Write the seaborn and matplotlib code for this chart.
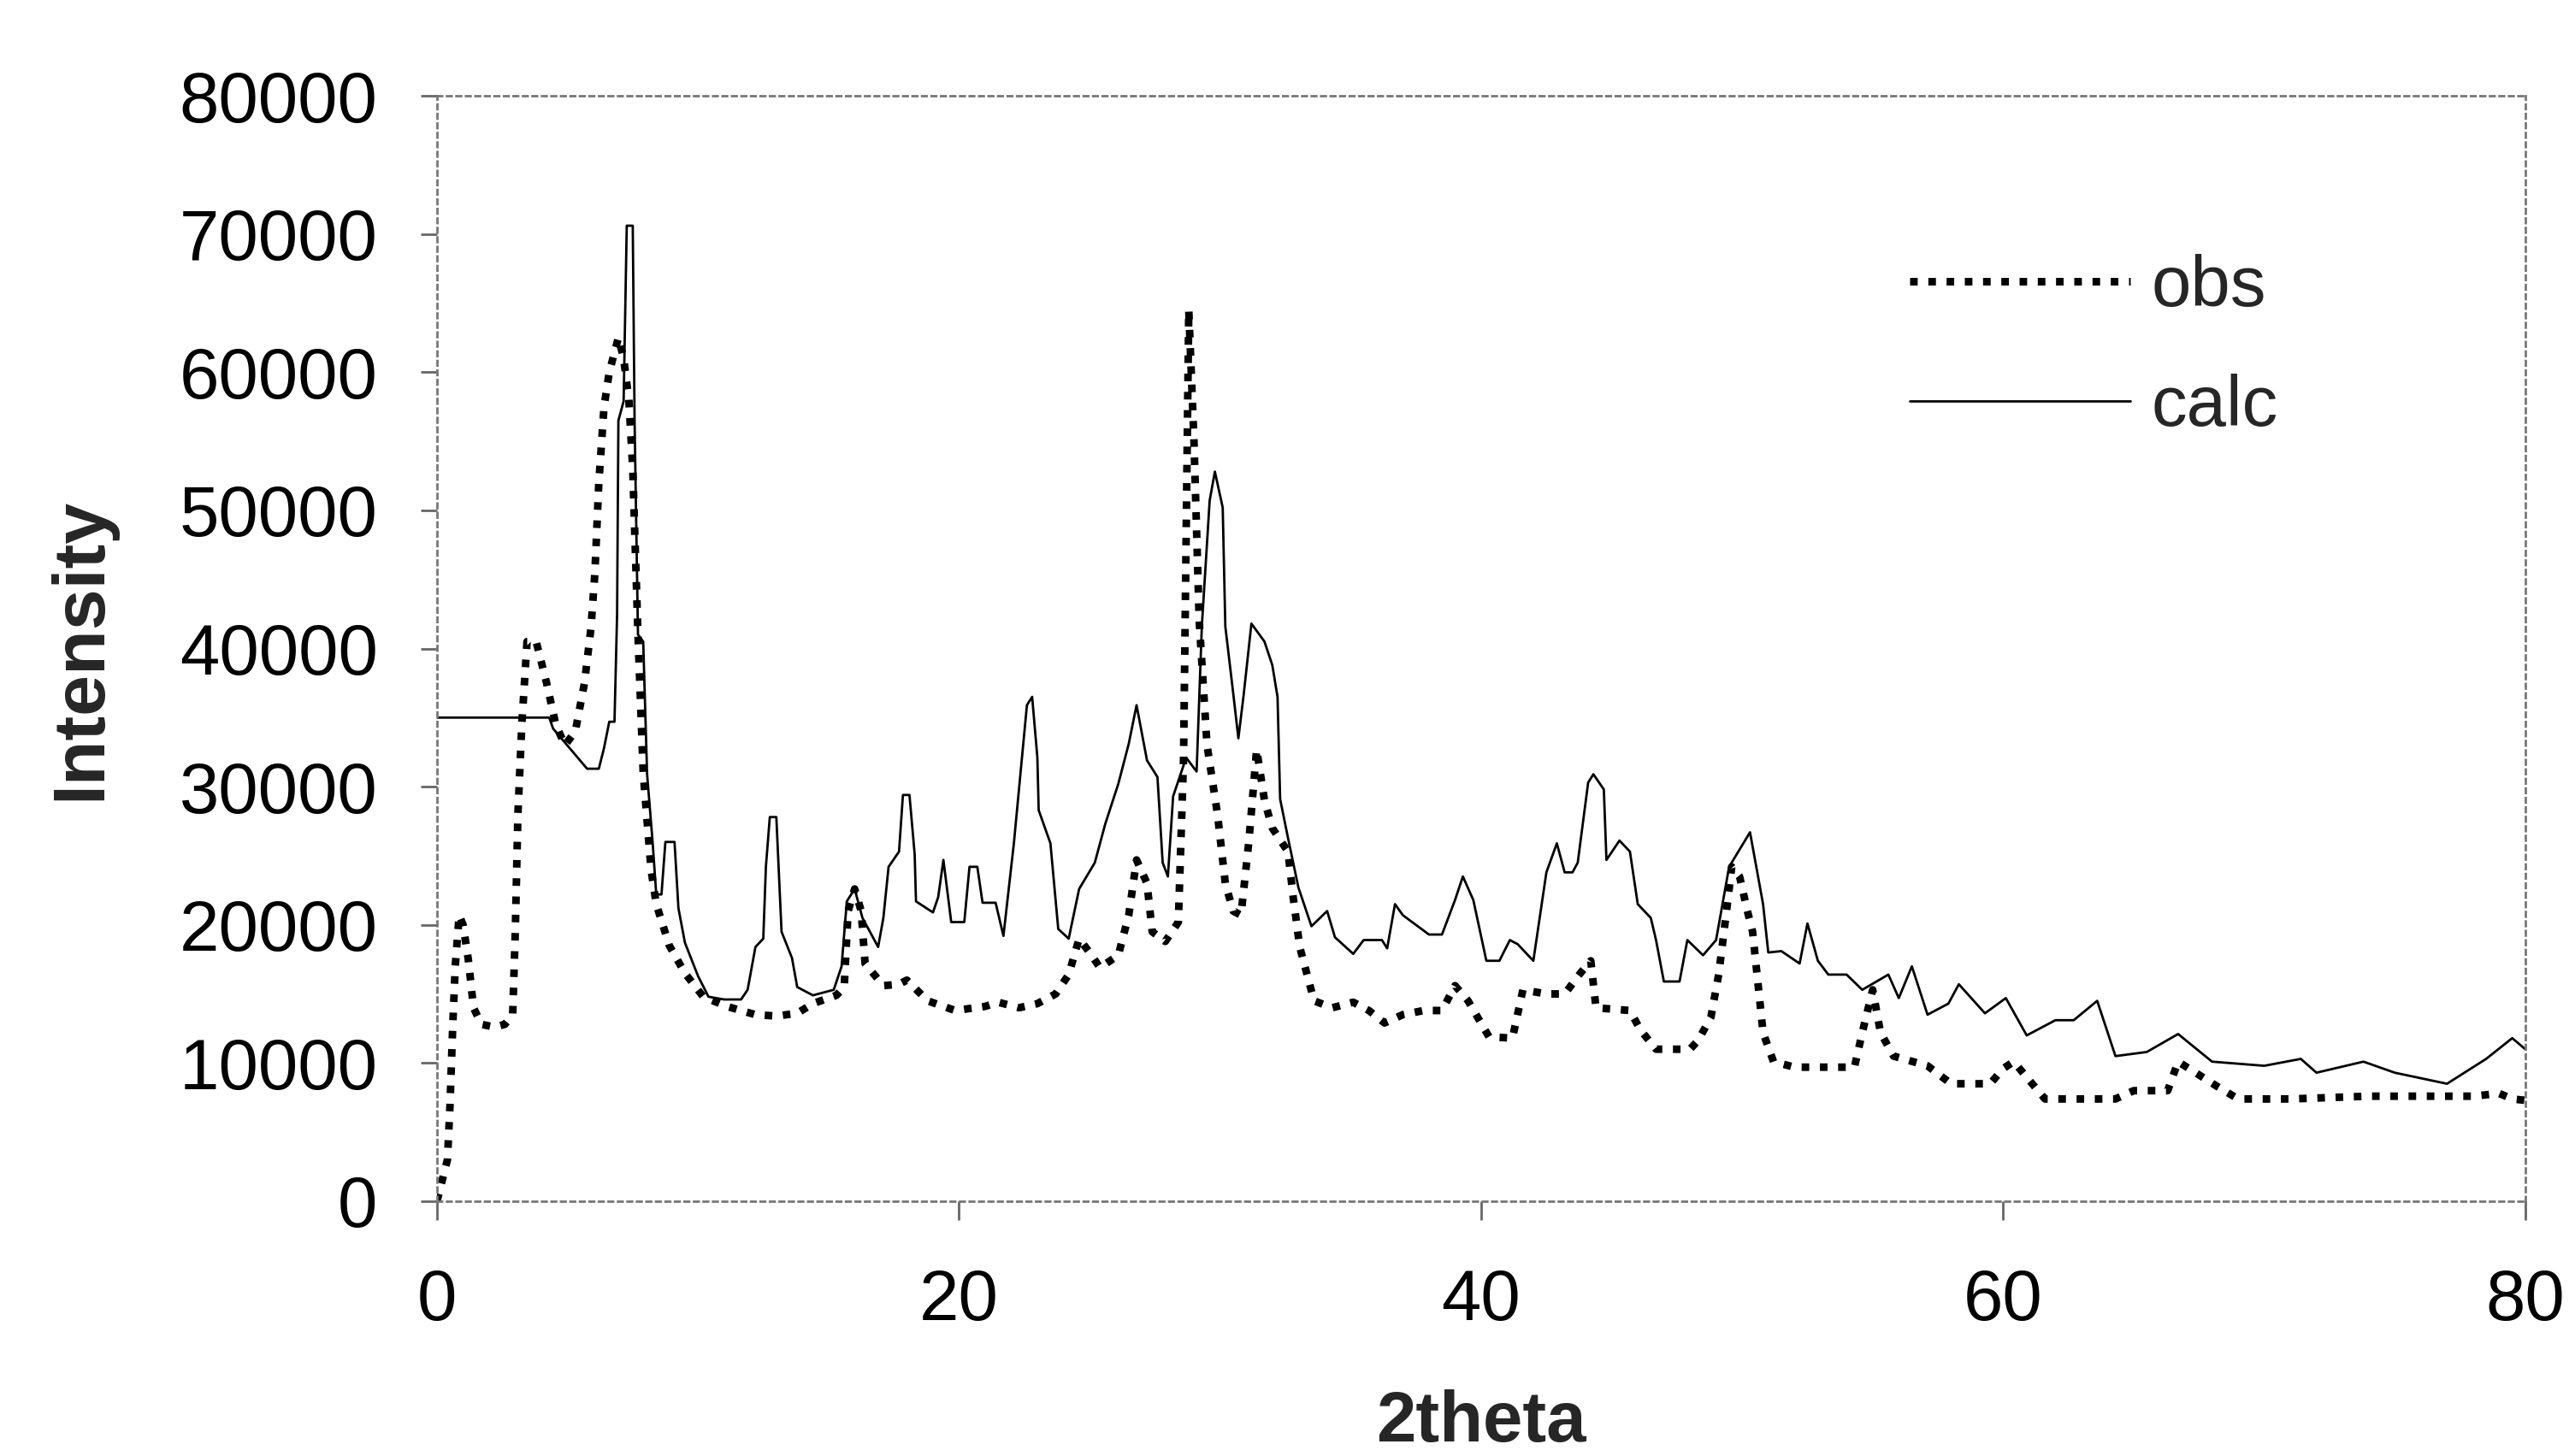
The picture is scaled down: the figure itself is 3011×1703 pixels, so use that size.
import numpy as np
import matplotlib
matplotlib.use("Agg")
import matplotlib.pyplot as plt
import seaborn as sns

# observed pattern (2theta, intensity)
obs_x = [0.0, 0.2, 0.4, 0.5, 0.6, 0.7, 0.85, 1.0, 1.2, 1.4, 1.7, 2.2, 2.6, 2.9, 3.0, 3.1,
         3.25, 3.45, 3.8, 4.2, 4.55, 4.9, 5.3, 5.65, 5.9, 6.05, 6.2, 6.4, 6.6, 6.95, 7.15,
         7.35, 7.5, 7.7, 7.9, 8.2, 8.4, 8.9, 9.5, 10.2, 11.1, 12.2, 13.0, 13.8, 14.4, 15.3,
         15.6, 15.75, 16.0, 16.25, 16.4, 17.1, 17.7, 18.0, 18.8, 19.85, 21.0, 21.5, 22.3,
         23.0, 23.7, 24.2, 24.6, 25.0, 25.4, 26.1, 26.5, 26.8, 27.2, 27.4, 27.9, 28.4, 28.6,
         28.8, 29.0, 29.2, 29.5, 29.9, 30.2, 30.5, 30.8, 31.1, 31.4, 31.7, 32.0, 32.6, 32.8,
         33.05, 33.6, 34.3, 35.1, 35.7, 36.3, 37.0, 37.8, 38.5, 39.0, 39.5, 39.9, 40.3, 41.2,
         41.6, 42.5, 43.2, 43.8, 44.2, 44.4, 45.7, 46.1, 46.7, 48.0, 48.3, 48.8, 49.1, 49.4,
         49.6, 49.9, 50.2, 50.4, 50.8, 51.2, 52.0, 54.3, 54.6, 55.0, 55.3, 55.8, 57.1, 58.0,
         59.5, 60.0, 60.4, 61.2, 61.6, 64.3, 65.0, 66.3, 66.7, 68.2, 69.0, 71.0, 74.0, 78.0,
         79.0, 79.5, 80.0]
obs_y = [0, 1500, 3000, 7000, 12500, 17000, 20700, 20000, 17500, 14000, 12800, 12600, 12800,
         13500, 19500, 28000, 34500, 40500, 40500, 37500, 34500, 33000, 34000, 37500, 41500,
         45500, 52000, 57500, 60000, 62500, 61000, 58000, 53000, 41000, 31000, 24000, 21500,
         18500, 16500, 14800, 14100, 13500, 13400, 13600, 14300, 14900, 15500, 21000, 22600,
         21000, 17200, 15600, 15700, 16000, 14500, 13800, 14100, 14400, 14000, 14300, 15000,
         16400, 19000, 18000, 16900, 17800, 20700, 24700, 23000, 19500, 18800, 20200, 32000,
         64500, 55000, 42000, 33000, 28000, 23000, 21000, 20700, 26000, 32700, 29000, 27000,
         25300, 22000, 18400, 14500, 14000, 14400, 13800, 12900, 13500, 13800, 13800, 15600,
         14500, 13200, 11900, 11800, 15300, 15000, 15000, 16500, 17400, 14000, 13800, 12400,
         11000, 11000, 11600, 13300, 16400, 21000, 24200, 23500, 21000, 19500, 12200, 10100,
         9700, 9700, 12200, 15300, 12200, 10500, 9800, 8500, 8500, 9600, 10100, 8300, 7400,
         7400, 8000, 8000, 10100, 8300, 7400, 7400, 7600, 7600, 7800, 7400, 7300]

# calculated pattern
calc_x = [0.0, 3.0, 4.3, 4.45, 5.3, 5.75, 6.2, 6.4, 6.6, 6.8, 6.9, 6.95, 7.15, 7.27, 7.5,
          7.57, 7.7, 7.9, 8.05, 8.26, 8.4, 8.6, 8.75, 9.1, 9.25, 9.5, 10.0, 10.4, 11.0, 11.65,
          11.9, 12.2, 12.5, 12.6, 12.75, 13.0, 13.1, 13.2, 13.6, 13.8, 14.4, 15.2, 15.5, 15.7,
          16.0, 16.3, 16.9, 17.1, 17.3, 17.7, 17.85, 18.1, 18.3, 18.35, 19.0, 19.2, 19.4, 19.7,
          20.2, 20.4, 20.7, 20.9, 21.4, 21.7, 22.1, 22.6, 22.8, 23.0, 23.05, 23.5, 23.8, 24.2,
          24.6, 25.2, 25.6, 26.1, 26.5, 26.8, 27.2, 27.6, 27.8, 28.0, 28.2, 28.7, 29.1, 29.3,
          29.6, 29.8, 30.1, 30.2, 30.5, 30.7, 30.9, 31.2, 31.7, 32.0, 32.2, 32.3, 32.6, 33.0,
          33.5, 34.1, 34.4, 35.1, 35.5, 36.2, 36.4, 36.7, 37.0, 38.0, 38.5, 39.0, 39.3, 39.7,
          40.2, 40.7, 41.1, 41.4, 42.0, 42.5, 42.9, 43.2, 43.5, 43.7, 44.1, 44.3, 44.7, 44.8,
          45.3, 45.7, 46.0, 46.5, 46.7, 47.0, 47.6, 47.9, 48.5, 49.0, 49.5, 50.3, 50.8, 51.0,
          51.5, 52.2, 52.5, 52.9, 53.3, 54.0, 54.6, 55.6, 56.0, 56.5, 57.1, 57.9, 58.3, 59.3,
          60.1, 60.9, 62.0, 62.7, 63.6, 64.3, 65.5, 66.7, 68.0, 70.0, 71.4, 72.0, 73.8, 75.0,
          77.0, 78.5, 79.5, 80.0]
calc_y = [35000, 35000, 35000, 34200, 32300, 31300, 31300, 32800, 34700, 34700, 42500, 56500,
          57900, 70600, 70600, 56500, 41000, 40500, 30900, 26000, 22200, 22200, 26000, 26000,
          21200, 18700, 16300, 14800, 14600, 14600, 15300, 18400, 19000, 24200, 27800, 27800,
          23600, 19500, 17600, 15500, 14900, 15300, 17000, 21700, 22600, 20500, 18400, 20500,
          24200, 25300, 29400, 29400, 25100, 21700, 20900, 22000, 24700, 20200, 20200, 24200,
          24200, 21600, 21600, 19200, 25900, 35900, 36500, 32100, 28300, 25900, 19700, 19000,
          22600, 24500, 27300, 30200, 33100, 35900, 31900, 30700, 24500, 23500, 29300, 32100,
          31100, 41600, 50700, 52800, 50200, 41600, 36800, 33500, 36600, 41800, 40500, 38800,
          36500, 29100, 26300, 22700, 19900, 21000, 19100, 17900, 18900, 18900, 18300, 21500,
          20700, 19300, 19300, 21800, 23500, 21800, 17400, 17400, 18900, 18600, 17400, 23800,
          25900, 23800, 23800, 24500, 30300, 30900, 29800, 24700, 26100, 25300, 21500, 20500,
          18900, 15900, 15900, 18900, 17800, 18900, 24200, 26700, 21500, 18000, 18100, 17200,
          20100, 17400, 16400, 16400, 15300, 16400, 14700, 17000, 13500, 14300, 15700, 13600,
          14700, 12000, 13100, 13100, 14500, 10500, 10800, 12100, 10100, 9800, 10300, 9300,
          10100, 9300, 8500, 10300, 11800, 11000]

x_ticks = [0, 20, 40, 60, 80]
y_ticks = [0, 10000, 20000, 30000, 40000, 50000, 60000, 70000, 80000]

sns.set_theme(style="white")
plt.rcParams['font.family'] = ['Liberation Sans', 'DejaVu Sans']

fig = plt.figure(figsize=(15.055, 8.515), dpi=200)
ax = fig.add_axes([0.1697, 0.175, 0.811, 0.7592])

sns.lineplot(x=obs_x, y=obs_y, ax=ax, color='black', linewidth=3.2,
             linestyle=(0, (1.0, 1.4)), label='obs', sort=False)
sns.lineplot(x=calc_x, y=calc_y, ax=ax, color='black', linewidth=1.0,
             label='calc', sort=False)

ax.set_xlim(0, 80)
ax.set_ylim(0, 80000)
ax.set_xticks(x_ticks)
ax.set_yticks(y_ticks)
ax.set_xticklabels([str(t) for t in x_ticks])
ax.set_yticklabels([str(t) for t in y_ticks])

ax.tick_params(axis='both', labelsize=30, colors='black')
ax.tick_params(axis='x', direction='out', length=8, width=1, color='#666666', pad=20,
               bottom=True)
ax.tick_params(axis='y', direction='out', length=7, width=1, color='#666666', pad=18,
               left=True)

for s in ax.spines.values():
    s.set_visible(True)
    s.set_color('#777777')
    s.set_linewidth(1.0)
    s.set_linestyle((0, (2, 2)))

ax.set_xlabel('2theta', fontsize=30, fontweight='bold', va='top')
ax.set_ylabel('Intensity', fontsize=31, fontweight='bold')
ax.xaxis.set_label_coords(0.5, -0.170)
ax.yaxis.set_label_coords(-0.154, 0.5)

leg = ax.legend(loc='upper left', bbox_to_anchor=(0.705, 0.857), frameon=False,
                fontsize=30, handlelength=3.1, handletextpad=0.3, labelspacing=0.75,
                borderpad=0, borderaxespad=0)

ax.grid(False)
fig.savefig('out.png', dpi=200)
